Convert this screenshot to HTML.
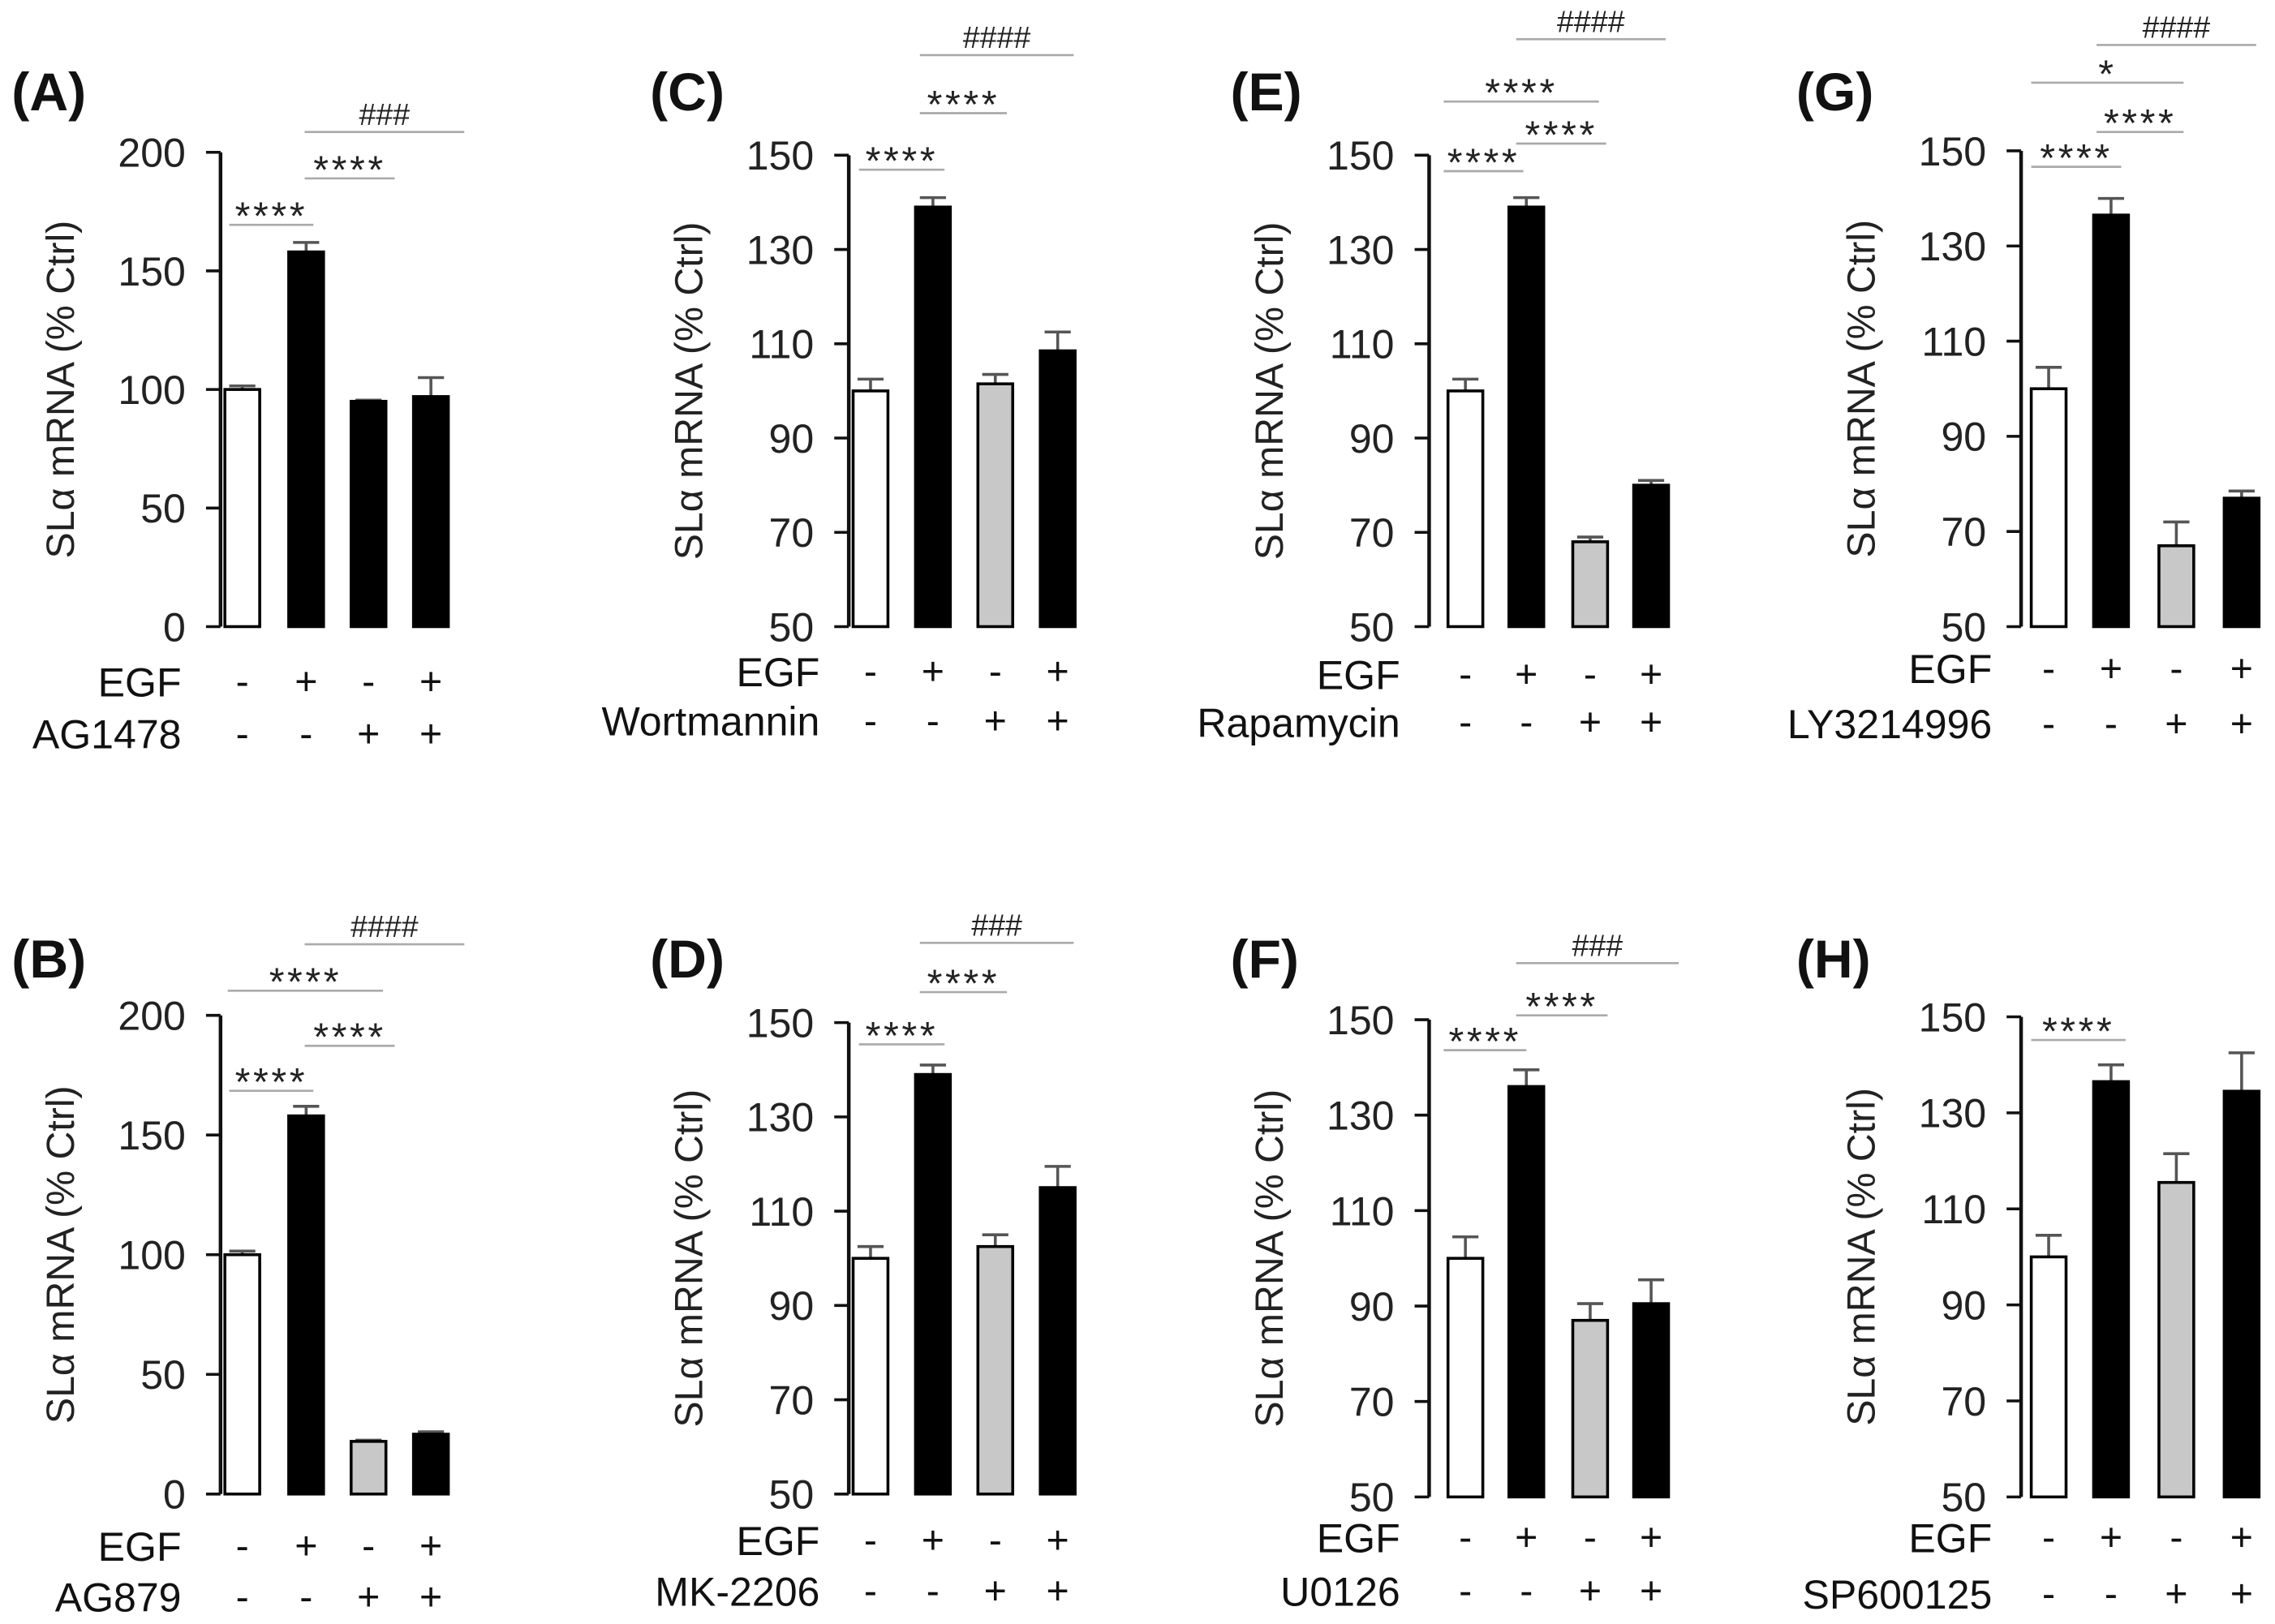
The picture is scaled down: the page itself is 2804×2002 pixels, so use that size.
<!DOCTYPE html>
<html><head><meta charset="utf-8"><style>
html,body{margin:0;padding:0;background:#fff;}
svg{display:block;font-family:"Liberation Sans",Arial,sans-serif;}
</style></head><body>
<svg id="fig" width="2804" height="2002" viewBox="0 0 1568 1119.6" preserveAspectRatio="none" xmlns="http://www.w3.org/2000/svg"></svg>
<script>
// ---- data ----
const valuesA=[100,158,95,97];   const errorsA=[1.5,4,0.5,8];
const valuesB=[100,158,22,25];   const errorsB=[1.5,4,0.5,1];
const valuesC=[100,139,101.5,108.5]; const errorsC=[2.5,2,2,4];
const valuesD=[100,139,102.5,115];   const errorsD=[2.5,2,2.5,4.5];
const valuesE=[100,139,68,80];   const errorsE=[2.5,2,1,1];
const valuesF=[100,136,87,90.5]; const errorsF=[4.5,3.5,3.5,5];
const valuesG=[100,136.5,67,77]; const errorsG=[4.5,3.5,5,1.5];
const valuesH=[100,136.5,115.5,134.5]; const errorsH=[4.5,3.5,6,8];
const ticks200=[0,50,100,150,200];
const ticks150=[50,70,90,110,130,150];
const egfRow=['-','+','-','+'];
const inhRow=['-','-','+','+'];
const inhibitors=['AG1478','AG879','Wortmannin','MK-2206','Rapamycin','U0126','LY3214996','SP600125'];

const NS='http://www.w3.org/2000/svg';
const svg=document.getElementById('fig');
function mk(tag,attrs,parent,text){const e=document.createElementNS(NS,tag);for(const k in attrs)e.setAttribute(k,attrs[k]);if(text!==undefined)e.textContent=text;(parent||svg).appendChild(e);return e;}

const panels=[
 {id:'A',lx:8,ly:76,ax:152,y0:432,y1:105,min:0,max:200,ticks:ticks200,cx:[167,211,254,297],vals:valuesA,errs:errorsA,fills:['#fff','#000','#000','#000'],r1:470,r2:506,egfX:125,inh:inhibitors[0],
  sig:[['****',158,216,155],['****',210,272,123],['###',210,320,91]]},
 {id:'B',lx:8,ly:674,ax:152,y0:1030,y1:700,min:0,max:200,ticks:ticks200,cx:[167,211,254,297],vals:valuesB,errs:errorsB,fills:['#fff','#000','#c8c8c8','#000'],r1:1066,r2:1101,egfX:125,inh:inhibitors[1],
  sig:[['****',158,216,752],['****',157,264,683],['****',210,272,721],['####',210,320,651]]},
 {id:'C',lx:448,ly:76,ax:585,y0:432,y1:107,min:50,max:150,ticks:ticks150,cx:[600,643,686,729],vals:valuesC,errs:errorsC,fills:['#fff','#000','#c8c8c8','#000'],r1:463,r2:497,egfX:565,inh:inhibitors[2],
  sig:[['****',592,651,117],['****',634,694,78],['####',634,740,38]]},
 {id:'D',lx:448,ly:674,ax:585,y0:1030,y1:705,min:50,max:150,ticks:ticks150,cx:[600,643,686,729],vals:valuesD,errs:errorsD,fills:['#fff','#000','#c8c8c8','#000'],r1:1062,r2:1097,egfX:565,inh:inhibitors[3],
  sig:[['****',592,651,720],['****',634,694,684],['###',634,740,650]]},
 {id:'E',lx:848,ly:76,ax:985,y0:432,y1:107,min:50,max:150,ticks:ticks150,cx:[1010,1052,1096,1138],vals:valuesE,errs:errorsE,fills:['#fff','#000','#c8c8c8','#000'],r1:465,r2:498,egfX:965,inh:inhibitors[4],
  sig:[['****',995,1050,118],['****',1045,1107,99],['****',995,1102,70],['####',1045,1148,27]]},
 {id:'F',lx:848,ly:674,ax:985,y0:1032,y1:703,min:50,max:150,ticks:ticks150,cx:[1010,1052,1096,1138],vals:valuesF,errs:errorsF,fills:['#fff','#000','#c8c8c8','#000'],r1:1060,r2:1097,egfX:965,inh:inhibitors[5],
  sig:[['****',995,1052,724],['****',1045,1108,700],['###',1045,1157,664]]},
 {id:'G',lx:1238,ly:76,ax:1393,y0:432,y1:104,min:50,max:150,ticks:ticks150,cx:[1412,1455,1500,1545],vals:valuesG,errs:errorsG,fills:['#fff','#000','#c8c8c8','#000'],r1:461,r2:499,egfX:1373,inh:inhibitors[6],
  sig:[['****',1400,1462,115],['****',1445,1505,91],['*',1400,1505,57],['####',1445,1555,31]]},
 {id:'H',lx:1238,ly:674,ax:1393,y0:1032,y1:701,min:50,max:150,ticks:ticks150,cx:[1412,1455,1500,1545],vals:valuesH,errs:errorsH,fills:['#fff','#000','#c8c8c8','#000'],r1:1060,r2:1099,egfX:1373,inh:inhibitors[7],
  sig:[['****',1400,1465,717]]}
];

panels.forEach(p=>{
  const g=mk('g',{},svg);
  
  
  const y=v=>p.y0-(v-p.min)/(p.max-p.min)*(p.y0-p.y1);
  const lab=mk('text',{x:p.lx,y:p.ly,'font-size':37,'font-weight':'bold',fill:'#111'},g,'('+p.id+')');
  
  
  const ax=mk('line',{x1:p.ax,y1:p.y1,x2:p.ax,y2:p.y0,stroke:'#111','stroke-width':2.5},g);
  
  
  p.ticks.forEach(t=>{
    mk('line',{x1:p.ax-10,y1:y(t),x2:p.ax,y2:y(t),stroke:'#111','stroke-width':2},g);
    const tl=mk('text',{x:p.ax-24,y:y(t)+10,'font-size':28,'text-anchor':'end',fill:'#222'},g,String(t));
    
    
  });
  const yt=mk('text',{x:0,y:0,'font-size':27,'text-anchor':'middle',fill:'#222',transform:`translate(${p.ax-101},${(p.y0+p.y1)/2}) rotate(-90)`},g,'SLα mRNA (% Ctrl)');
  
  
  p.vals.forEach((v,i)=>{
    const cx=p.cx[i],w=24,top=y(v);
    const e=y(v+p.errs[i]);
    mk('line',{x1:cx,y1:top,x2:cx,y2:e,stroke:'#555','stroke-width':2},g);
    mk('line',{x1:cx-9,y1:e,x2:cx+9,y2:e,stroke:'#555','stroke-width':2},g);
    const b=mk('rect',{x:cx-w/2,y:top,width:w,height:p.y0-top,fill:p.fills[i],stroke:'#000','stroke-width':2},g);
    
    
    mk('text',{x:cx,y:p.r1+9,'font-size':27,'text-anchor':'middle',fill:'#111'},g,egfRow[i]);
    mk('text',{x:cx,y:p.r2+9,'font-size':27,'text-anchor':'middle',fill:'#111'},g,inhRow[i]);
  });
  const eg=mk('text',{x:p.egfX,y:p.r1+10,'font-size':28,'text-anchor':'end',fill:'#111'},g,'EGF');
  
  
  const ih=mk('text',{x:p.egfX,y:p.r2+10,'font-size':28,'text-anchor':'end',fill:'#111'},g,p.inh);
  
  
  p.sig.forEach(s=>{
    mk('line',{x1:s[1],y1:s[3],x2:s[2],y2:s[3],stroke:'#aaa','stroke-width':1.5},g);
    const isHash=s[0][0]=='#';
    const st=mk('text',{x:(s[1]+s[2])/2,y:isHash?s[3]-5:s[3]+3,'font-size':isHash?21:27,'text-anchor':'middle',fill:'#222','letter-spacing':isHash?0:2},g,s[0]);
    
    
  });
});
</script>
</body></html>
